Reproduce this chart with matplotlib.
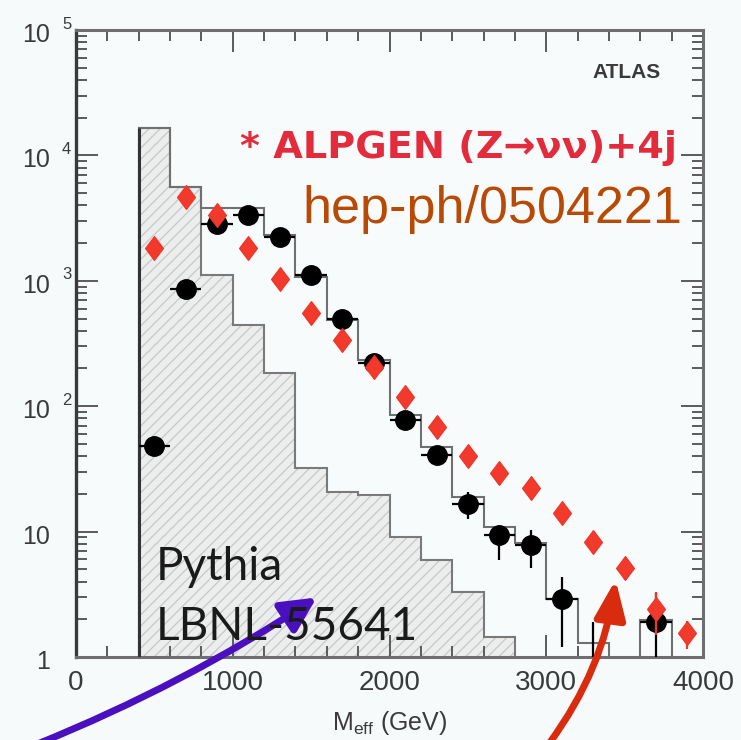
import numpy as np
import matplotlib.pyplot as plt
from matplotlib.patches import FancyArrowPatch, ArrowStyle
from matplotlib.path import Path
from matplotlib.ticker import MultipleLocator, LogLocator, NullFormatter

plt.rcParams['font.family'] = ['Liberation Sans', 'DejaVu Sans']
plt.rcParams['hatch.linewidth'] = 0.9

# Pythia QCD background (shaded histogram), 200 GeV bins
pythia_edges = np.arange(400, 2801, 200)
pythia_counts = [16600, 5630, 1113, 444, 183, 32, 20.8, 19.5, 9.1, 5.94, 3.32, 1.45]

# total background outline histogram
line_edges = np.arange(400, 4001, 200)
line_counts = [16600, 5630, 3785, 3785, 2318, 1078, 487, 234, 85, 47.5,
               19, 10.9, 8.07, 2.88, 1.29, 0, 1.97, 0]

# black points with errors
black_x = [500, 700, 900, 1100, 1300, 1500, 1700, 1900, 2100, 2300,
           2500, 2700, 2900, 3100, 3300, 3700]
black_y = [48, 856, 2837, 3350, 2223, 1113, 493, 222, 77.6, 40.8,
           16.6, 9.4, 7.8, 2.88, 0.6, 1.91]
black_err_lo = [7, 30, 55, 60, 45, 33, 22, 15, 9, 6.5, 4, 3.5, 2.7, 1.68, 0.6, 1.0]
black_err_hi = [7, 30, 55, 60, 45, 33, 22, 15, 9, 6.5, 4, 1.5, 2.5, 1.49, 1.3, 1.3]

# ALPGEN (Z->nunu)+4j points
alpgen_x = [500, 700, 900, 1100, 1300, 1500, 1700, 1900, 2100, 2300,
            2500, 2700, 2900, 3100, 3300, 3500, 3700, 3900]
alpgen_y = [1815, 4634, 3350, 1815, 1028, 557, 337, 204, 119, 68.6,
            40.1, 29.5, 22.2, 14.2, 8.3, 5.1, 2.4, 1.55]
alpgen_err = [60, 120, 250, 150, 90, 50, 30, 20, 12, 8,
              5, 4, 3, 2, 1.5, 1.0, 0.9, 0.4]

fig = plt.figure(figsize=(7.41, 7.40), dpi=100, facecolor='#F6FAFB')
ax = fig.add_axes([76 / 741, 1 - 657 / 740, 627 / 741, 627 / 740])
ax.set_facecolor('#F8FBFC')

# hatched Pythia histogram
ax.stairs(pythia_counts, pythia_edges, baseline=1e-3, fill=True,
          facecolor='#ECEDED', edgecolor='#C6C8C8', hatch='///', linewidth=0, zorder=1)
ax.stairs(pythia_counts, pythia_edges, baseline=1e-3, color='#7A7A7A', lw=1.5, zorder=2)
ax.vlines(pythia_edges[0], 1e-3, pythia_counts[0], color='#333333', lw=2.2, zorder=3)

# outline histogram
ax.stairs(line_counts, line_edges, baseline=1e-3, color='#707070', lw=1.5, zorder=2)

# black points
ax.errorbar(black_x, black_y, yerr=[black_err_lo, black_err_hi], xerr=100,
            fmt='o', color='black', ms=14, elinewidth=1.6, capsize=0, zorder=4)

# red diamonds
diamond = Path([(0, 1), (0.75, 0), (0, -1), (-0.75, 0), (0, 1)],
               [Path.MOVETO, Path.LINETO, Path.LINETO, Path.LINETO, Path.CLOSEPOLY])
ax.errorbar(alpgen_x, alpgen_y, yerr=alpgen_err, fmt='none', ecolor='#F0362A',
            elinewidth=1.6, capsize=0, zorder=5)
ax.plot(alpgen_x, alpgen_y, ls='none', marker=diamond, ms=17,
        color='#F23A2C', mec='#F0362A', zorder=5)

ax.set_xlim(0, 4000)
ax.set_yscale('log')
ax.set_ylim(1, 1e5)

# ticks
ax.xaxis.set_major_locator(MultipleLocator(1000))
ax.xaxis.set_minor_locator(MultipleLocator(200))
ax.yaxis.set_major_locator(LogLocator(base=10))
ax.yaxis.set_minor_locator(LogLocator(base=10, subs=np.arange(2, 10)))
ax.yaxis.set_major_formatter(NullFormatter())
ax.yaxis.set_minor_formatter(NullFormatter())
ax.tick_params(which='both', direction='in', top=True, right=True,
               color='#5A5A5A', width=1.4)
ax.tick_params(which='major', length=16)
ax.tick_params(which='minor', length=8)
ax.tick_params(axis='x', labelsize=20, labelcolor='#3A3A3A', pad=9)

for side in ['top', 'right', 'bottom']:
    ax.spines[side].set_color('#6E6E6E')
    ax.spines[side].set_linewidth(2.2)
ax.spines['left'].set_color('#3A3A3A')
ax.spines['left'].set_linewidth(2.4)

# y tick labels written as 10 with a raised exponent
for k in range(6):
    base = '1' if k == 0 else '10'
    ax.annotate(base, xy=(0, 10.0 ** k), xycoords=('axes fraction', 'data'),
                xytext=(-18.7, -3.6), textcoords='offset points',
                ha='right', va='center', fontsize=18, color='#3A3A3A')
    if k >= 2:
        ax.annotate(str(k), xy=(0, 10.0 ** k), xycoords=('axes fraction', 'data'),
                    xytext=(-10, 4.3), textcoords='offset points',
                    ha='left', va='center', fontsize=12, color='#3A3A3A')

ax.set_xlabel(r'M$_{\mathregular{eff}}$ (GeV)', fontsize=18, color='#3A3A3A', labelpad=10)

# annotations inside the frame
fig.text(627 / 741, 1 - 73 / 740, 'ATLAS', ha='center', va='center',
         fontsize=15, fontweight='bold', color='#3A3A3A')
fig.text(240 / 741, 1 - 148 / 740, '* ALPGEN (Z\u2192\u03bd\u03bd)+4j', ha='left', va='center',
         fontsize=27.5, fontweight='bold', color='#E42B3C', family='DejaVu Sans')
fig.text(302 / 741, 1 - 223 / 740, 'hep-ph/0504221', ha='left', va='baseline',
         fontsize=37.5, color='#B94A06')
fig.text(156 / 741, 1 - 580 / 740, 'Pythia', ha='left', va='baseline',
         fontsize=33, color='#1A1A1A', family='Lato')
fig.text(156 / 741, 1 - 640 / 740, 'LBNL-55641', ha='left', va='baseline',
         fontsize=33, color='#1A1A1A', family='Lato')

# pointer arrows
blue_arrow = FancyArrowPatch((35 / 741, -5 / 740), (319 / 741, 1 - 596 / 740),
                             transform=fig.transFigure,
                             connectionstyle='arc3,rad=0.05',
                             arrowstyle=ArrowStyle('-|>', head_length=1.4, head_width=0.7),
                             mutation_scale=15, lw=5, color='#4A10C0')
red_arrow = FancyArrowPatch((548 / 741, -5 / 740), (616 / 741, 1 - 577 / 740),
                            transform=fig.transFigure,
                            connectionstyle='arc3,rad=0.13',
                            arrowstyle=ArrowStyle('-|>', head_length=1.55, head_width=0.62),
                            mutation_scale=15, lw=5, color='#D92B0E')
fig.patches.extend([blue_arrow, red_arrow])

fig.savefig('out.png', dpi=100, facecolor=fig.get_facecolor())
